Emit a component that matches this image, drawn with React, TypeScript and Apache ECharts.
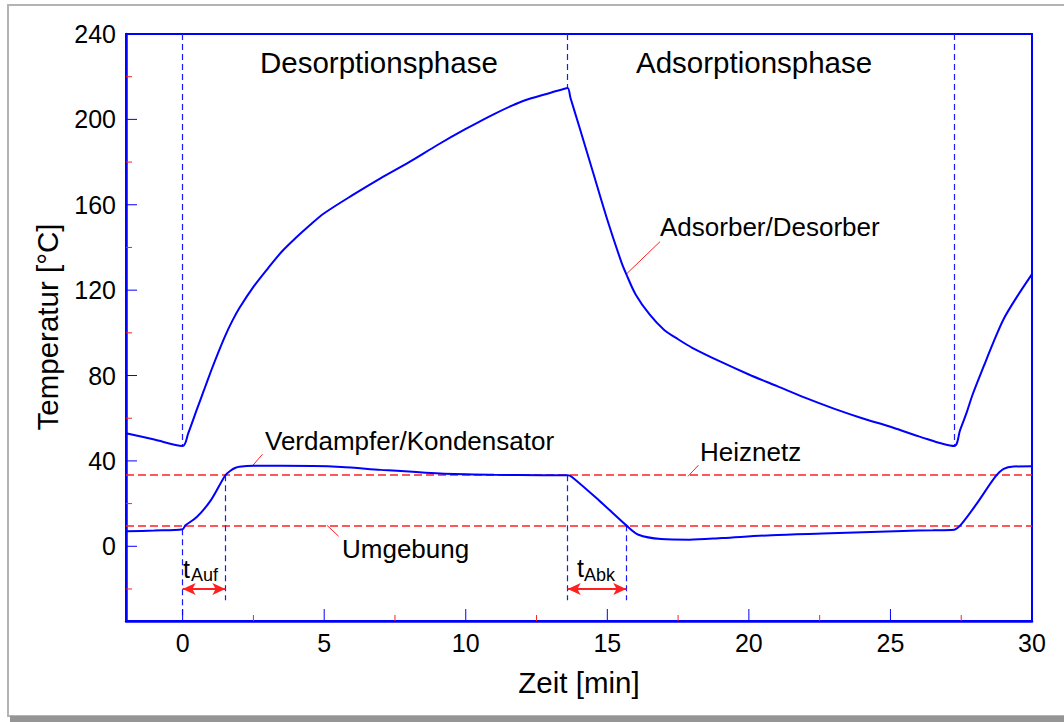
import React, { useEffect, useRef } from "react";
import * as echarts from "echarts";

// ---- data ----
const adsorberX = [-2, -1, 0, 0.2, 0.5, 0.75, 1, 1.25, 1.5, 1.75, 2, 2.5, 3, 3.5, 4, 4.5, 5, 6, 7, 8, 9, 10, 11, 12, 13, 13.4, 13.6, 13.7, 14, 14.5, 15, 15.5, 15.67, 16, 16.5, 17, 17.5, 18, 19, 20, 21, 22, 23, 24, 25, 26, 27.25, 27.46, 27.7, 27.9, 28.3, 28.65, 29.0, 29.45, 30];
const adsorberY = [53, 50, 47, 53, 64, 73, 82, 90.5, 98.5, 105.5, 111.5, 121.5, 130, 138, 144.5, 150.5, 156, 164.5, 172.5, 180, 188, 195.5, 202.5, 208.5, 212.5, 214, 214.7, 210, 197, 175, 153, 133, 127.5, 118, 108.5, 101.5, 97, 93, 86.5, 80.5, 75, 69.5, 64.5, 60, 56, 51.5, 47, 54.4, 63, 71, 84.5, 96, 106.5, 116.5, 127.5];

const verdampferX = [-2, -1, 0, 0.1, 0.5, 1, 1.51, 1.7, 1.87, 2, 2.5, 3.5, 5.6, 7, 9.1, 11, 12.7, 13.6, 13.75, 14.7, 15.67, 16.1, 16.9, 17.9, 19.07, 20.8, 22.6, 25.45, 26.5, 27.25, 27.5, 28.05, 28.7, 29.0, 29.35, 30];
const verdampferY = [7, 7.4, 8, 9.8, 13.7, 21.6, 33.3, 35.5, 36.8, 37.3, 37.7, 37.7, 37.2, 35.8, 34.1, 33.5, 33.3, 33.3, 32.5, 21.6, 9.8, 5.4, 3.4, 3.1, 3.9, 5.2, 6.0, 7.2, 7.5, 7.8, 10.3, 20, 32.5, 36.3, 37.4, 37.5];

const heiznetz = 33.3;
const umgebung = 9.8;

const xTickLabels = [0, 5, 10, 15, 20, 25, 30];
const xMajorTicks = [0, 5, 10, 15, 20, 25];
const xMinorTicks = [2.5, 7.5, 12.5, 17.5, 22.5, 27.5];
const yTickLabels = [0, 40, 80, 120, 160, 200, 240];
const yMajorTicks = [0, 40, 80, 120, 160, 200];
const yMinorTicks = [-20, 20, 60, 100, 140, 180, 220];

const X_MIN = -2;
const X_MAX = 30;
const Y_MIN = -35;
const Y_MAX = 240;

// vertical dashed guide segments [x, yFrom, yTo]
const guideSegments: [number, number, number][] = [
  [0, 240, 47],
  [0, 8, -33],
  [1.51, 33.3, -25.3],
  [13.6, 240, 214.7],
  [13.6, 33.3, -25.3],
  [15.67, 9.8, -25.3],
  [27.25, 240, 47],
];

// time-span arrows [xFrom, xTo, y]
const spanArrows: [number, number, number][] = [
  [0, 1.51, -20],
  [13.6, 15.67, -20],
];

// annotation leader lines [[x1,y1],[x2,y2]]
const leaders: [number, number][][] = [
  [[16.86, 142.7], [15.67, 127.5]],
  [[2.82, 43.1], [2.46, 37.6]],
  [[5.1, 9.8], [5.51, 4.7]],
  [[18.22, 38], [17.85, 32.8]],
];

const FONT = "'Liberation Sans', Arial, sans-serif";
const BLUE = "#0000ff";
const RED = "#ff2020";

export default function App() {
  const ref = useRef<HTMLDivElement>(null);

  useEffect(() => {
    if (!ref.current) return;
    const chart = echarts.init(ref.current, undefined, { renderer: "svg" });

    const zip = (xs: number[], ys: number[]) => xs.map((x, i) => [x, ys[i]]);

    const leaderSeries = leaders.map((seg) => ({
      type: "line",
      data: seg,
      symbol: "none",
      silent: true,
      lineStyle: { color: RED, width: 1 },
      z: 3,
    }));

    // tick data: [axis(0=x,1=y), value, major(1)/minor(0)]
    const tickData: number[][] = [
      ...xMajorTicks.map((v) => [0, v, 1]),
      ...xMinorTicks.map((v) => [0, v, 0]),
      ...yMajorTicks.map((v) => [1, v, 1]),
      ...yMinorTicks.map((v) => [1, v, 0]),
    ];

    const guideStyle = { color: "#1a1aff", width: 1.2, type: [6, 4] };

    const option: any = {
      animation: false,
      backgroundColor: "#ffffff",
      grid: {
        left: 126,
        right: 32,
        top: 34,
        bottom: 101,
        show: true,
        borderColor: BLUE,
        borderWidth: 2,
        backgroundColor: "transparent",
      },
      xAxis: {
        type: "value",
        min: X_MIN,
        max: X_MAX,
        position: "bottom",
        axisLine: { onZero: false, lineStyle: { color: BLUE, width: 2.5 } },
        axisTick: { show: false },
        axisLabel: { customValues: xTickLabels, color: "#000", fontSize: 25, margin: 9, fontFamily: FONT },
        splitLine: { show: false },
      },
      yAxis: {
        type: "value",
        min: Y_MIN,
        max: Y_MAX,
        position: "left",
        axisLine: { show: true, onZero: false, lineStyle: { color: BLUE, width: 2.5 } },
        axisTick: { show: false },
        axisLabel: { customValues: yTickLabels, color: "#000", fontSize: 25, margin: 10, fontFamily: FONT },
        splitLine: { show: false },
      },
      series: [
        {
          type: "line",
          name: "Adsorber/Desorber",
          data: zip(adsorberX, adsorberY),
          symbol: "none",
          smooth: 0.3,
          lineStyle: { color: BLUE, width: 2 },
          z: 5,
        },
        {
          type: "line",
          name: "Verdampfer/Kondensator",
          data: zip(verdampferX, verdampferY),
          symbol: "none",
          smooth: 0.3,
          lineStyle: { color: BLUE, width: 2 },
          z: 5,
        },
        {
          type: "custom",
          name: "ticks",
          silent: true,
          clip: false,
          data: tickData,
          renderItem: (params: any, api: any) => {
            const axis = api.value(0);
            const v = api.value(1);
            const major = api.value(2) === 1;
            const color = major ? BLUE : RED;
            if (axis === 0) {
              const p = api.coord([v, Y_MIN]);
              const len = major ? 12 : 6;
              return {
                type: "line",
                shape: { x1: p[0], y1: p[1], x2: p[0], y2: p[1] - len },
                style: { stroke: color, lineWidth: 1 },
              };
            }
            const p = api.coord([X_MIN, v]);
            const len = major ? 11 : 6;
            return {
              type: "line",
              shape: { x1: p[0], y1: p[1], x2: p[0] + len, y2: p[1] },
              style: { stroke: color, lineWidth: 1 },
            };
          },
          z: 6,
        },
        {
          type: "line",
          name: "guides",
          data: [],
          symbol: "none",
          markLine: {
            silent: true,
            symbol: ["none", "none"],
            label: { show: false },
            lineStyle: guideStyle,
            data: [
              { yAxis: heiznetz, lineStyle: { color: RED, width: 1.5, type: [8, 4] } },
              { yAxis: umgebung, lineStyle: { color: RED, width: 1.5, type: [8, 4] } },
              ...guideSegments.map(([x, y1, y2]) => [
                { coord: [x, y1], lineStyle: guideStyle },
                { coord: [x, y2], lineStyle: guideStyle },
              ]),
            ],
          },
          z: 2,
        },
        {
          type: "line",
          name: "arrows",
          data: [],
          symbol: "none",
          markLine: {
            silent: true,
            symbol: ["arrow", "arrow"],
            symbolSize: [9, 13],
            label: { show: false },
            lineStyle: { color: RED, width: 2, type: "solid" },
            itemStyle: { color: RED },
            data: spanArrows.map(([x1, x2, y]) => [{ coord: [x1, y] }, { coord: [x2, y] }]),
          },
          z: 4,
        },
        ...leaderSeries,
      ],
      graphic: [
        { type: "rect", shape: { x: 8, y: 5, width: 1080, height: 711 }, style: { fill: "none", stroke: "#b4b4b4", lineWidth: 2 }, silent: true, z: -1 },
        { type: "rect", shape: { x: 10, y: 716, width: 1054, height: 6 }, style: { fill: "#959595" }, silent: true, z: -1 },
        { type: "text", x: 260, y: 62.5, style: { text: "Desorptionsphase", font: `29.5px ${FONT}`, fill: "#000", align: "left", verticalAlign: "middle" } },
        { type: "text", x: 636, y: 62.5, style: { text: "Adsorptionsphase", font: `29.5px ${FONT}`, fill: "#000", align: "left", verticalAlign: "middle" } },
        { type: "text", x: 660, y: 227, style: { text: "Adsorber/Desorber", font: `26px ${FONT}`, fill: "#000", align: "left", verticalAlign: "middle" } },
        { type: "text", x: 265, y: 440.5, style: { text: "Verdampfer/Kondensator", font: `26px ${FONT}`, fill: "#000", align: "left", verticalAlign: "middle" } },
        { type: "text", x: 700, y: 452, style: { text: "Heiznetz", font: `26px ${FONT}`, fill: "#000", align: "left", verticalAlign: "middle" } },
        { type: "text", x: 342, y: 549, style: { text: "Umgebung", font: `26px ${FONT}`, fill: "#000", align: "left", verticalAlign: "middle" } },
        { type: "text", x: 183, y: 569, style: { text: "t", font: `25px ${FONT}`, fill: "#000", align: "left", verticalAlign: "middle" } },
        { type: "text", x: 191, y: 575, style: { text: "Auf", font: `18px ${FONT}`, fill: "#000", align: "left", verticalAlign: "middle" } },
        { type: "text", x: 577, y: 568, style: { text: "t", font: `25px ${FONT}`, fill: "#000", align: "left", verticalAlign: "middle" } },
        { type: "text", x: 584, y: 575, style: { text: "Abk", font: `18px ${FONT}`, fill: "#000", align: "left", verticalAlign: "middle" } },
        { type: "text", x: 579, y: 682.5, style: { text: "Zeit [min]", font: `29.5px ${FONT}`, fill: "#000", align: "center", verticalAlign: "middle" } },
        { type: "text", x: 47, y: 327, rotation: Math.PI / 2, style: { text: "Temperatur [°C]", font: `29.5px ${FONT}`, fill: "#000", align: "center", verticalAlign: "middle" } },
      ],
    };

    chart.setOption(option);
    return () => chart.dispose();
  }, []);

  return (
    <div
      ref={ref}
      style={{ position: "absolute", left: 0, top: 0, width: 1064, height: 722, background: "#fff" }}
    />
  );
}
